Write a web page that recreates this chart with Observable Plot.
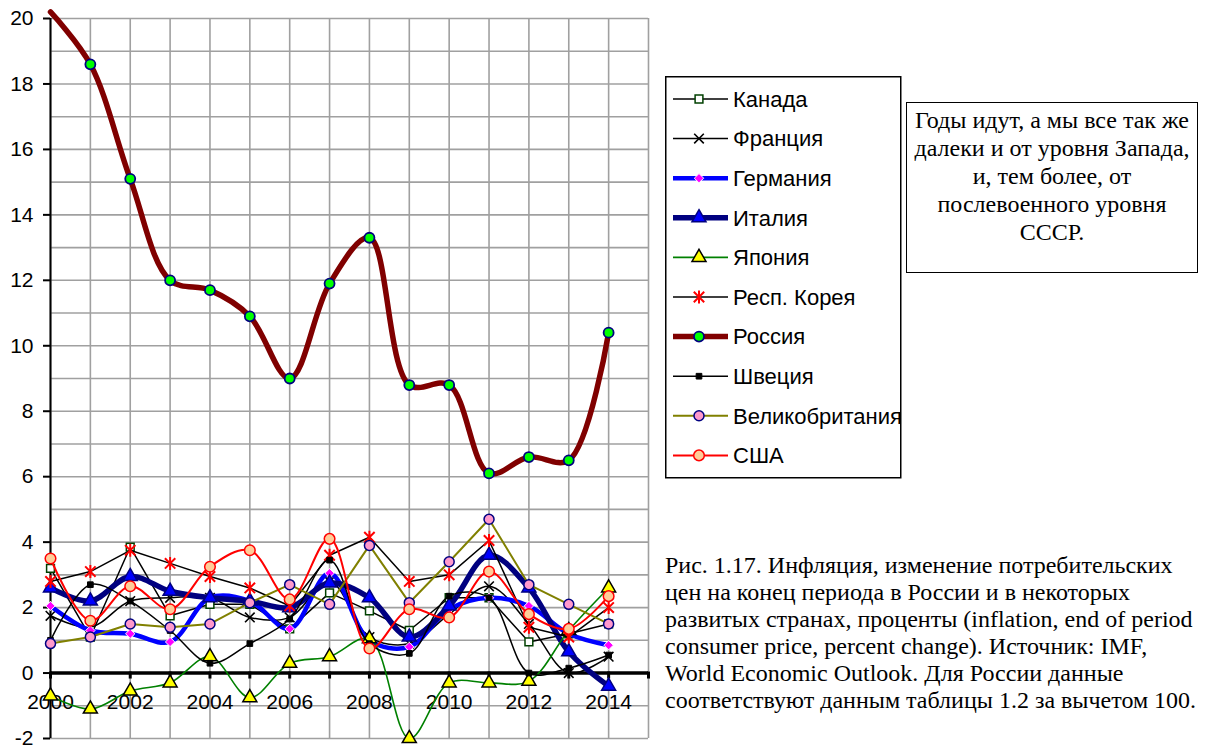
<!DOCTYPE html>
<html><head><meta charset="utf-8">
<script src="https://cdn.jsdelivr.net/npm/d3@7"></script>
<script src="https://cdn.jsdelivr.net/npm/@observablehq/plot@0.6"></script>
<style>
body{margin:0;background:#fff;}
#wrap{position:relative;width:1209px;height:747px;overflow:hidden;background:#fff;}
#chart{position:absolute;left:0;top:0;}
#legend{position:absolute;left:665px;top:76px;}
#note{position:absolute;left:906px;top:102px;width:292px;height:171px;border:1.5px solid #000;box-sizing:border-box;font-family:"Liberation Serif";font-size:24px;line-height:28px;text-align:center;padding-top:3px;color:#000}
#caption{position:absolute;left:665px;top:552px;font-family:"Liberation Serif";font-size:24px;line-height:27px;white-space:nowrap;color:#000}
</style></head>
<body>
<div id="wrap">
<div id="chart"></div>
<div id="legend"></div>
<div id="note">Годы идут, а мы все так же<br>далеки и от уровня Запада,<br>и, тем более, от<br>послевоенного уровня<br>СССР.</div>
<div id="caption">Рис. 1.17. Инфляция, изменение потребительских<br>цен на конец периода в России и в некоторых<br>развитых странах, проценты (inflation, end of period<br>consumer price, percent change). Источник: IMF,<br>World Economic Outlook. Для России данные<br>соответствуют данным таблицы 1.2 за вычетом 100.</div>
</div>
<script>
// ---- data ----
const years = [2000,2001,2002,2003,2004,2005,2006,2007,2008,2009,2010,2011,2012,2013,2014];
const canada  = [3.2, 1.1, 3.85, 1.75, 2.1, 2.1, 1.35, 2.45, 1.9, 1.3, 2.3, 2.3, 0.95, 1.2, 1.5];
const france  = [1.75, 1.4, 2.2, 2.3, 2.3, 1.7, 1.7, 2.8, 1.1, 0.9, 1.8, 2.65, 1.5, 0.0, 0.5];
const germany = [2.05, 1.3, 1.2, 0.95, 2.3, 2.2, 1.35, 3.05, 1.0, 0.8, 1.95, 2.3, 2.05, 1.2, 0.85];
const italy   = [2.6, 2.2, 2.95, 2.5, 2.3, 2.2, 2.0, 2.75, 2.3, 1.1, 2.05, 3.6, 2.6, 0.65, -0.4];
const japan   = [-0.7, -1.1, -0.55, -0.3, 0.5, -0.75, 0.3, 0.5, 1.05, -2.0, -0.3, -0.3, -0.25, 1.3, 2.6];
const korea   = [2.8, 3.1, 3.75, 3.35, 2.95, 2.6, 2.05, 3.6, 4.15, 2.8, 3.0, 4.05, 1.4, 1.1, 2.0];
const russia  = [20.2, 18.6, 15.1, 12.0, 11.7, 10.9, 9.0, 11.9, 13.3, 8.8, 8.8, 6.1, 6.6, 6.5, 10.4];
const sweden  = [1.0, 2.7, 2.2, 1.3, 0.3, 0.9, 1.65, 3.45, 0.9, 0.6, 2.35, 2.3, 0.0, 0.15, 0.55];
const uk      = [0.9, 1.1, 1.5, 1.4, 1.5, 2.15, 2.7, 2.1, 3.9, 2.15, 3.4, 4.7, 2.7, 2.1, 1.5];
const usa     = [3.5, 1.6, 2.65, 1.95, 3.25, 3.75, 2.25, 4.1, 0.75, 1.95, 1.7, 3.1, 1.8, 1.35, 2.35];
const names = ["Канада","Франция","Германия","Италия","Япония","Респ. Корея","Россия","Швеция","Великобритания","США"];
const yTicks = [-2,0,2,4,6,8,10,12,14,16,18,20];
const yGrid = [-2,-1,0,1,2,3,4,5,6,7,8,9,10,11,12,13,14,15,16,17,18,19,20];
const xGrid = [2000,2001,2002,2003,2004,2005,2006,2007,2008,2009,2010,2011,2012,2013,2014,2015];
const xLabels = [2000,2002,2004,2006,2008,2010,2012,2014];

// custom symbols
const timesSym = {draw(ctx, size){const r=Math.sqrt(size/Math.PI)*0.8;ctx.moveTo(-r,-r);ctx.lineTo(r,r);ctx.moveTo(-r,r);ctx.lineTo(r,-r);}};
const starSym = {draw(ctx, size){const r=Math.sqrt(size/Math.PI);const a=r*0.8;ctx.moveTo(-a,-a);ctx.lineTo(a,a);ctx.moveTo(-a,a);ctx.lineTo(a,-a);ctx.moveTo(0,-r);ctx.lineTo(0,r);}};

const series = [
  {values: canada,  stroke:"#000", width:1.5, curve:"linear", symbol:d3.symbolSquare, fill:"#fff", mstroke:"#004000", r:4.4, mw:1.5},
  {values: france,  stroke:"#000", width:1.5, curve:"catmull-rom", symbol:timesSym, fill:"none", mstroke:"#000", r:6, mw:1.6},
  {values: germany, stroke:"#0000ff", width:4.5, curve:"catmull-rom", symbol:d3.symbolDiamond2, fill:"#ff00ff", mstroke:"#fff", r:4.2, mw:1},
  {values: italy,   stroke:"#000080", width:5.5, curve:"catmull-rom", symbol:d3.symbolTriangle, fill:"#0000ff", mstroke:"#000080", r:5.2, mw:1.5},
  {values: japan,   stroke:"#008000", width:1.6, curve:"catmull-rom", symbol:d3.symbolTriangle, fill:"#ffff00", mstroke:"#000", r:5.2, mw:1.5},
  {values: korea,   stroke:"#000", width:1.5, curve:"linear", symbol:starSym, fill:"none", mstroke:"#ff0000", r:6.5, mw:2},
  {values: russia,  stroke:"#800000", width:5.5, curve:"catmull-rom", symbol:d3.symbolCircle, fill:"#00ff00", mstroke:"#000080", r:5, mw:1.8},
  {values: sweden,  stroke:"#000", width:1.5, curve:"catmull-rom", symbol:d3.symbolSquare, fill:"#000", mstroke:"#000", r:3.2, mw:1},
  {values: uk,      stroke:"#808000", width:2, curve:"linear", symbol:d3.symbolCircle, fill:"#ff99cc", mstroke:"#000080", r:5, mw:1.5},
  {values: usa,     stroke:"#ff0000", width:2, curve:"catmull-rom", symbol:d3.symbolCircle, fill:"#ffcc99", mstroke:"#ff0000", r:5.3, mw:1.5}
];

const marks = [
  Plot.gridX(xGrid, {stroke:"#a0a0a0", strokeOpacity:1, strokeWidth:1.6}),
  Plot.gridY(yGrid, {stroke:"#a0a0a0", strokeOpacity:1, strokeWidth:1.6}),
  Plot.ruleX([xGrid[0]], {stroke:"#000", strokeWidth:2}),
  Plot.axisY(yTicks, {tickSize:7, tickPadding:10, fontSize:21, strokeWidth:2, label:null, tickFormat:d=>String(d)}),
  Plot.ruleY([0], {stroke:"#000", strokeWidth:3.5}),
  Plot.ruleX(xGrid, {x:d=>d, y1:()=>0, y2:()=>0, insetTop:-1, insetBottom:-6, stroke:"#000", strokeWidth:3}),
  Plot.text(xLabels, {x:d=>d, y:()=>0, dy:29, text:d=>String(d), fontSize:21, fill:"#000"})
];
for (const s of series) {
  const data = years.map((yr,i)=>({year:yr, value:s.values[i]}));
  marks.push(Plot.line(data, {x:"year", y:"value", stroke:s.stroke, strokeWidth:s.width, curve:s.curve}));
  marks.push(Plot.dot(data.filter(d=>d.value<=20), {x:"year", y:"value", symbol:()=>s.symbol, r:s.r, fill:s.fill, stroke:s.mstroke, strokeWidth:s.mw}));
}

const plot = Plot.plot({
  width: 660, height: 747,
  marginLeft: 50, marginRight: 12, marginTop: 18, marginBottom: 9,
  x: {domain:[2000,2015], axis:null},
  y: {domain:[-2,20], axis:null},
  symbol: {type:"identity"},
  style: {fontFamily:"Liberation Sans", fontSize:"21px", color:"#000", background:"#fff", overflow:"visible"},
  marks
});
document.getElementById("chart").appendChild(plot);

// legend
const L = d3.select("#legend").append("svg").attr("width",237).attr("height",403)
  .style("font-family","Liberation Sans").style("font-size","22px");
L.append("rect").attr("x",0.75).attr("y",0.75).attr("width",235).attr("height",401).attr("fill","#fff").attr("stroke","#000").attr("stroke-width",1.5);
series.forEach((s,i)=>{
  const cy = 23 + i*39.6;
  const g = L.append("g").attr("transform",`translate(0,${cy})`);
  g.append("line").attr("x1",8).attr("x2",63).attr("y1",0).attr("y2",0).attr("stroke",s.stroke).attr("stroke-width",s.width);
  g.append("path").attr("transform","translate(34,0)").attr("d",d3.symbol(s.symbol, s.r*s.r*Math.PI)())
    .attr("fill",s.fill).attr("stroke",s.mstroke).attr("stroke-width",s.mw);
  g.append("text").attr("x",68).attr("y",0).attr("dy","0.35em").text(names[i]);
});
</script>
</body></html>
